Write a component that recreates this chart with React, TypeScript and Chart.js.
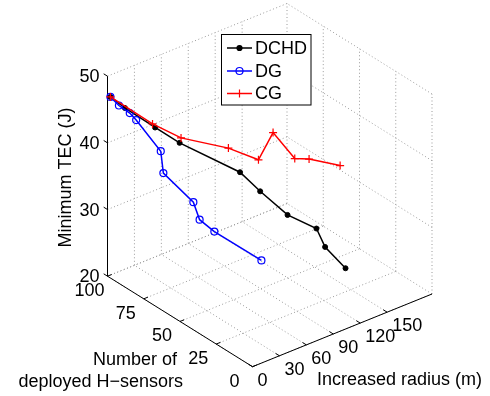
import { useEffect, useRef } from 'react';
import { Chart, registerables } from 'chart.js';

Chart.register(...registerables);

// ---------- data ----------
const radiusTicks = [0, 30, 60, 90, 120, 150];
const sensorTicks = [0, 25, 50, 75, 100];
const tecTicks = [20, 30, 40, 50];

const dchdRadius = [0, 10, 25, 40, 70, 80, 95, 115, 120, 140];
const dchdSensors = [100, 96, 84, 76, 52, 44, 34, 26, 23, 21];
const dchdTEC = [47.3, 45.6, 43.4, 41.3, 38.4, 36.0, 32.9, 30.8, 28.1, 24.0];

const dgRadius = [0, 5, 12, 18, 30, 32, 50, 55, 65, 100];
const dgSensors = [100, 97.1, 93.8, 93, 83.1, 82.5, 72.5, 71.2, 67, 55.5];
const dgTEC = [47.3, 46.1, 45.0, 43.7, 39.6, 36.2, 32.1, 29.3, 27.5, 22.7];

const cgRadius = [0, 25, 40, 70, 85, 95, 110, 120, 140];
const cgSensors = [100, 85.8, 75, 60.2, 48.3, 44.2, 38.2, 34.3, 24.8];
const cgTEC = [47.3, 43.7, 42.2, 41.0, 40.0, 44.2, 40.2, 40.1, 39.3];

const seriesNames = ['DCHD', 'DG', 'CG'];
const xLabel = 'Increased radius (m)';
const yLabelLines = ['Number of', 'deployed H\u2212sensors'];
const zLabel = 'Minimum TEC (J)';

// ---------- layout / view ----------
const W = 490;
const H = 396;
const FONT = '"Liberation Sans", Arial, Helvetica, sans-serif';
const R_MIN = 0, R_MAX = 200;
const S_MIN = 0, S_MAX = 100;
const Z_MIN = 20, Z_MAX = 50;
const ORIGIN = [252.5, 366.7];
const R_END = [432, 294];
const S_END = [107.5, 276.2];
const Z_HEIGHT = 200;

function project(r: number, s: number, z: number) {
  const fr = (r - R_MIN) / (R_MAX - R_MIN);
  const fs = (s - S_MIN) / (S_MAX - S_MIN);
  const fz = (z - Z_MIN) / (Z_MAX - Z_MIN);
  return {
    x: ORIGIN[0] + fr * (R_END[0] - ORIGIN[0]) + fs * (S_END[0] - ORIGIN[0]),
    y: ORIGIN[1] + fr * (R_END[1] - ORIGIN[1]) + fs * (S_END[1] - ORIGIN[1]) - fz * Z_HEIGHT,
  };
}

function toPoints(rs: number[], ss: number[], zs: number[]) {
  return rs.map((r, i) => project(r, ss[i], zs[i]));
}

function unit(a: { x: number; y: number }, b: { x: number; y: number }) {
  const dx = b.x - a.x, dy = b.y - a.y;
  const l = Math.hypot(dx, dy);
  return { x: dx / l, y: dy / l };
}

const boxPlugin = {
  id: 'box3d',
  beforeDatasetsDraw(chart: any) {
    const ctx: CanvasRenderingContext2D = chart.ctx;
    ctx.save();
    const seg = (a: any, b: any) => {
      ctx.beginPath();
      ctx.moveTo(a.x, a.y);
      ctx.lineTo(b.x, b.y);
      ctx.stroke();
    };
    // grid
    ctx.strokeStyle = '#9a9a9a';
    ctx.lineWidth = 1;
    ctx.setLineDash([1, 2.5]);
    for (const r of radiusTicks) {
      seg(project(r, S_MIN, Z_MIN), project(r, S_MAX, Z_MIN));
      seg(project(r, S_MAX, Z_MIN), project(r, S_MAX, Z_MAX));
    }
    for (const s of sensorTicks) {
      seg(project(R_MIN, s, Z_MIN), project(R_MAX, s, Z_MIN));
      seg(project(R_MAX, s, Z_MIN), project(R_MAX, s, Z_MAX));
    }
    for (const z of tecTicks) {
      seg(project(R_MIN, S_MAX, z), project(R_MAX, S_MAX, z));
      seg(project(R_MAX, S_MIN, z), project(R_MAX, S_MAX, z));
    }
    ctx.setLineDash([]);
    // axes
    ctx.strokeStyle = '#000';
    ctx.lineWidth = 1;
    seg(project(R_MIN, S_MAX, Z_MIN), project(R_MIN, S_MAX, Z_MAX));
    seg(project(R_MIN, S_MIN, Z_MIN), project(R_MIN, S_MAX, Z_MIN));
    seg(project(R_MIN, S_MIN, Z_MIN), project(R_MAX, S_MIN, Z_MIN));
    const dirS = unit(project(0, S_MIN, Z_MIN), project(0, S_MAX, Z_MIN));
    const dirR = unit(project(R_MIN, 0, Z_MIN), project(R_MAX, 0, Z_MIN));
    const TL = 4.5;
    ctx.fillStyle = '#000';
    ctx.font = `18px ${FONT}`;
    // z ticks
    ctx.textAlign = 'right';
    ctx.textBaseline = 'middle';
    for (const z of tecTicks) {
      const p = project(R_MIN, S_MAX, z);
      seg(p, { x: p.x + dirS.x * TL, y: p.y + dirS.y * TL });
      ctx.fillText(String(z), p.x - 8, p.y + 1);
    }
    // sensor ticks
    ctx.textAlign = 'center';
    for (const s of sensorTicks) {
      const p = project(R_MIN, s, Z_MIN);
      seg(p, { x: p.x + dirR.x * TL, y: p.y + dirR.y * TL });
      ctx.fillText(String(s), p.x - 18, p.y + 15);
    }
    // radius ticks
    ctx.textAlign = 'left';
    for (const r of radiusTicks) {
      const p = project(r, S_MIN, Z_MIN);
      seg(p, { x: p.x + dirS.x * TL, y: p.y + dirS.y * TL });
      ctx.fillText(String(r), p.x + 5, p.y + 14);
    }
    // axis labels
    ctx.textAlign = 'left';
    ctx.fillText(xLabel, 317, 380);
    ctx.textAlign = 'right';
    ctx.fillText(yLabelLines[0], 177, 360.5);
    ctx.fillText(yLabelLines[1], 183, 382.5);
    ctx.save();
    ctx.translate(66, 177.5);
    ctx.rotate(-Math.PI / 2);
    ctx.textAlign = 'center';
    ctx.fillText(zLabel, 0, 0);
    ctx.restore();
    ctx.restore();
  },
  afterDraw(chart: any) {
    const ctx: CanvasRenderingContext2D = chart.ctx;
    ctx.save();
    const bx = 221.5, by = 34.5, bw = 89.5, bh = 70.5;
    ctx.fillStyle = '#fff';
    ctx.fillRect(bx, by, bw, bh);
    ctx.strokeStyle = '#000';
    ctx.lineWidth = 1;
    ctx.strokeRect(bx, by, bw, bh);
    const ys = [48, 71, 93.5];
    ctx.font = `18px ${FONT}`;
    ctx.textAlign = 'left';
    ctx.textBaseline = 'middle';
    chart.data.datasets.forEach((ds: any, i: number) => {
      const y = ys[i];
      ctx.strokeStyle = ds.borderColor;
      ctx.lineWidth = 1.5;
      ctx.beginPath();
      ctx.moveTo(227, y);
      ctx.lineTo(252, y);
      ctx.stroke();
      const mx = 239.5;
      ctx.lineWidth = 1.2;
      if (ds.pointStyle === 'cross') {
        ctx.beginPath();
        ctx.moveTo(mx - 4, y); ctx.lineTo(mx + 4, y);
        ctx.moveTo(mx, y - 4); ctx.lineTo(mx, y + 4);
        ctx.stroke();
      } else {
        ctx.beginPath();
        ctx.arc(mx, y, ds.pointRadius, 0, Math.PI * 2);
        if (ds.pointBackgroundColor !== 'rgba(0,0,0,0)') {
          ctx.fillStyle = ds.pointBackgroundColor;
          ctx.fill();
        }
        ctx.stroke();
      }
      ctx.fillStyle = '#000';
      ctx.fillText(seriesNames[i], 255, y + 1);
    });
    ctx.restore();
  },
};

export default function App() {
  const ref = useRef<HTMLCanvasElement>(null);
  useEffect(() => {
    if (!ref.current) return;
    const chart = new Chart(ref.current, {
      type: 'scatter',
      data: {
        datasets: [
          {
            label: seriesNames[0],
            data: toPoints(dchdRadius, dchdSensors, dchdTEC),
            showLine: true,
            borderColor: '#000000',
            borderWidth: 1.5,
            pointStyle: 'circle',
            pointRadius: 2.5,
            pointBackgroundColor: '#000000',
            pointBorderColor: '#000000',
            pointBorderWidth: 1,
            clip: false,
            order: 2,
          },
          {
            label: seriesNames[1],
            data: toPoints(dgRadius, dgSensors, dgTEC),
            showLine: true,
            borderColor: '#0000ff',
            borderWidth: 1.5,
            pointStyle: 'circle',
            pointRadius: 3.5,
            pointBackgroundColor: 'rgba(0,0,0,0)',
            pointBorderColor: '#0000ff',
            pointBorderWidth: 1.2,
            clip: false,
            order: 1,
          },
          {
            label: seriesNames[2],
            data: toPoints(cgRadius, cgSensors, cgTEC),
            showLine: true,
            borderColor: '#ff0000',
            borderWidth: 1.5,
            pointStyle: 'cross',
            pointRadius: 4,
            pointBackgroundColor: '#ff0000',
            pointBorderColor: '#ff0000',
            pointBorderWidth: 1.2,
            clip: false,
            order: 0,
          },
        ] as any,
      },
      options: {
        animation: false,
        responsive: false,
        devicePixelRatio: 1,
        layout: { padding: 0 },
        events: [],
        scales: {
          x: { type: 'linear', min: 0, max: W, display: false },
          y: { type: 'linear', min: 0, max: H, reverse: true, display: false },
        },
        plugins: { legend: { display: false }, tooltip: { enabled: false } },
      },
      plugins: [boxPlugin],
    });
    return () => chart.destroy();
  }, []);
  return (
    <div style={{ position: 'absolute', left: 0, top: 0, width: W, height: H, background: '#fff' }}>
      <canvas ref={ref} width={W} height={H} style={{ display: 'block' }} />
    </div>
  );
}
